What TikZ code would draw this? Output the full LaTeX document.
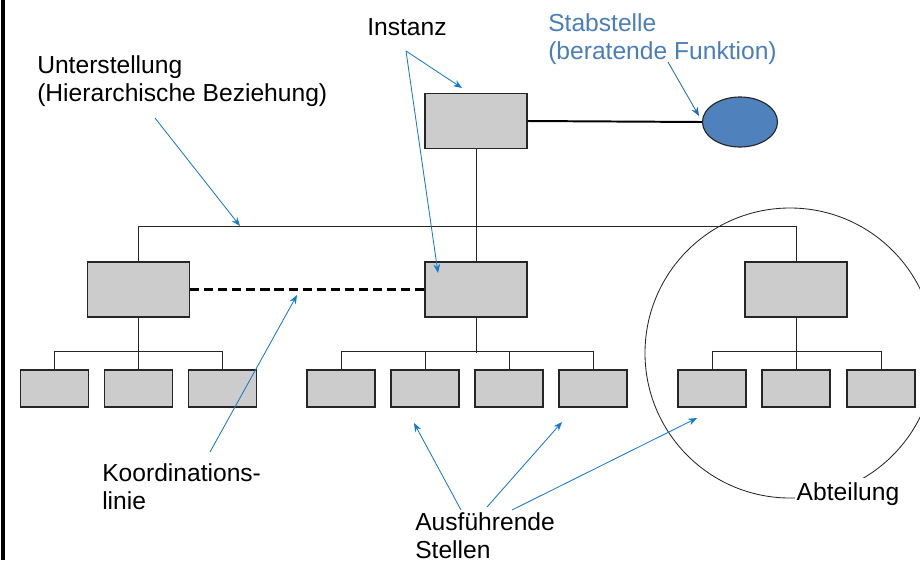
\documentclass[tikz,border=0pt]{standalone}
\usepackage{fontspec}
\setmainfont{Liberation Sans}
\usetikzlibrary{arrows.meta,shapes.geometric}
\definecolor{boxgray}{RGB}{204,204,204}
\definecolor{stabblue}{RGB}{79,129,189}
\definecolor{stabtext}{RGB}{74,126,187}
\definecolor{pfeilblau}{RGB}{20,122,204}
\definecolor{stabpfeil}{RGB}{28,110,165}

\tikzset{
  stelle/.style={draw=black!85, line width=0.8pt, fill=boxgray, minimum width=2.55cm, minimum height=1.375cm, inner sep=0pt},
  klein/.style={draw=black!85, line width=0.8pt, fill=boxgray, minimum width=1.7cm, minimum height=0.925cm, inner sep=0pt},
  verbindung/.style={draw=black!85, line width=0.6pt},
  hinweis/.style={draw=pfeilblau, line width=0.6pt, -{Stealth[length=2.2mm,width=1.7mm]}},
  beschriftung/.style={align=left, anchor=north west, inner sep=0pt, font=\fontsize{17.5}{20}\selectfont}
}

\begin{document}
\begin{tikzpicture}[x=0.025cm, y=-0.025cm]
    \useasboundingbox (0,0) rectangle (920,560);
    \draw[line width=2.2pt] (3,0) -- (3,560);

    % Instanz und Stabstelle
    \node[stelle] (instanz) at (476,121) {};
    \node[ellipse, draw=black!85, line width=0.8pt, fill=stabblue, minimum width=1.875cm, minimum height=1.25cm, inner sep=0pt] (stab) at (740,122) {};
    \draw[line width=1.4pt] (instanz.east) -- (stab.west);

    % zweite Ebene
    \node[stelle] (links) at (138.5,289.5) {};
    \node[stelle] (mitte) at (476,289.5) {};
    \node[stelle] (rechts) at (796,289.5) {};

    % ausfuehrende Stellen
    \node[klein] (l1) at (54.5,388.5) {};
    \node[klein] (l2) at (138.5,388.5) {};
    \node[klein] (l3) at (222.5,388.5) {};
    \node[klein] (m1) at (341,388.5) {};
    \node[klein] (m2) at (425,388.5) {};
    \node[klein] (m3) at (509,388.5) {};
    \node[klein] (m4) at (593,388.5) {};
    \node[klein] (r1) at (712,388.5) {};
    \node[klein] (r2) at (796,388.5) {};
    \node[klein] (r3) at (881,388.5) {};

    % Abteilung
    \draw[black!85, line width=0.6pt] (790,353) circle [radius=145];
    \node[font=\fontsize{17.5}{20}\selectfont, fill=white, inner xsep=1pt, inner ysep=3pt, anchor=base west] (abteilung) at (795,500) {Abteilung};

    % Linien
    \draw[verbindung] (instanz.south) -- (mitte.north);
    \draw[verbindung] (links.north) -- ++(0,-35) -| (rechts.north);
    \draw[verbindung] (links.south) -- (l2.north);
    \draw[verbindung] (l1.north) -- ++(0,-18) -| (l3.north);
    \draw[verbindung] (mitte.south) -- ++(0,35);
    \draw[verbindung] (m1.north) -- ++(0,-18) -| (m4.north);
    \draw[verbindung] (m2.north) -- ++(0,-18);
    \draw[verbindung] (m3.north) -- ++(0,-18);
    \draw[verbindung] (rechts.south) -- (r2.north);
    \draw[verbindung] (r1.north) -- ++(0,-18) -| (r3.north);
    \draw[line width=1.8pt, dash pattern=on 6.5pt off 3.5pt] (links.east) -- (mitte.west);

    % Texte
    \node[beschriftung] (instanztext) at (367,18) {Instanz};
    \node[beschriftung] (unterstellung) at (37,55) {Unterstellung\\(Hierarchische Beziehung)};
    \node[beschriftung, text=stabtext] (stabtext) at (548,13) {Stabstelle\\(beratende Funktion)};
    \node[beschriftung] (koordination) at (102,463) {Koordinations-\\linie};
    \node[beschriftung] (ausfuehrend) at (415,512) {Ausführende\\Stellen};

    % Pfeile
    \coordinate (u0) at (155,118);
    \coordinate (u1) at (240,226);
    \draw[hinweis] (u0) -- (u1);
    \coordinate (i0) at (406,51);
    \coordinate (i1) at (462,88);
    \coordinate (i2) at (438,273);
    \draw[hinweis] (i0) -- (i1);
    \draw[hinweis] (i0) -- (i2);
    \coordinate (s0) at (668,62);
    \coordinate (s1) at (699,116);
    \draw[hinweis, draw=stabpfeil] (s0) -- (s1);
    \coordinate (k0) at (210,452);
    \coordinate (k1) at (297,295);
    \draw[hinweis] (k0) -- (k1);
    \coordinate (a0) at (461,510);
    \coordinate (a1) at (487,507);
    \coordinate (a2) at (512,510);
    \draw[hinweis] (a0) -- (414,423);
    \draw[hinweis] (a1) -- (562,422);
    \draw[hinweis] (a2) -- (697,418);
\end{tikzpicture}
\end{document}
